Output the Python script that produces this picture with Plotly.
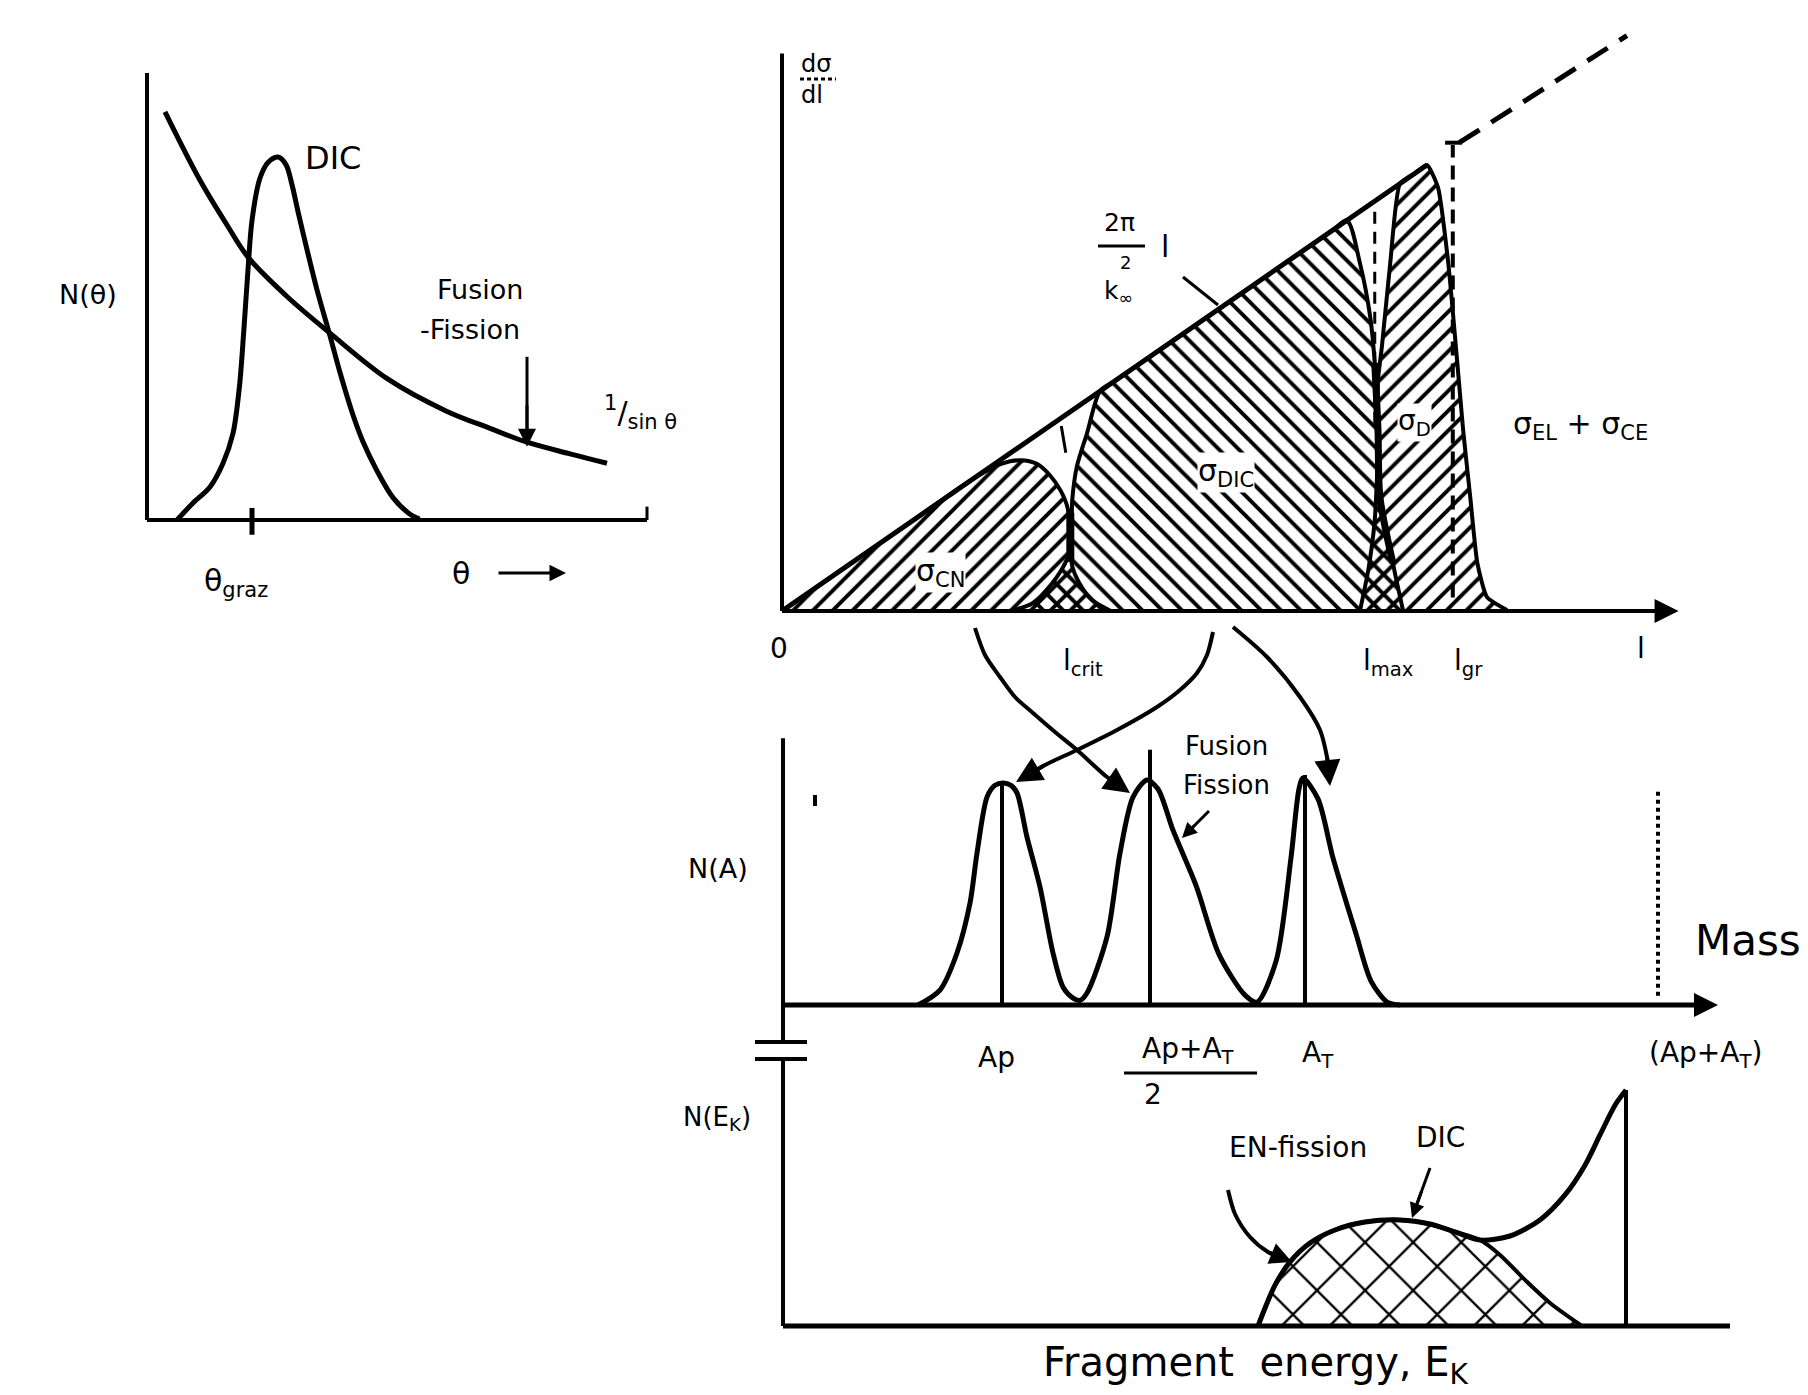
import plotly.graph_objects as go

W, H = 1808, 1395
FONT = "DejaVu Sans"

# ---------------- Panel A : N(theta) ----------------
theta_sin = [0.36, 1.06, 1.6, 2.02, 2.8, 3.66, 4.82, 5.98, 6.86, 7.6, 8.46, 9.2]
n_sin = [9.13, 7.6, 6.6, 5.88, 5.0, 4.18, 3.15, 2.44, 2.05, 1.74, 1.48, 1.27]
theta_dic = [0.6, 0.92, 1.26, 1.52, 1.72, 1.85, 1.94, 2.02, 2.1, 2.26, 2.42, 2.62, 2.78, 2.9,
             3.02, 3.2, 3.4, 3.66, 3.86, 4.12, 4.32, 4.6, 4.92, 5.26, 5.45]
n_dic = [0.0, 0.38, 0.74, 1.27, 1.94, 3.0, 4.3, 5.6, 6.7, 7.65, 8.0, 8.12, 7.95, 7.5,
         6.9, 6.05, 5.15, 4.12, 3.3, 2.35, 1.75, 1.1, 0.5, 0.13, 0.02]
theta_graz = 2.1
theta_max = 10.0
n_max = 10.0
fission_arrow_theta = 7.6
fission_arrow_n = [3.65, 1.76]

# ---------------- Panel B : dsigma/dl ----------------
l_tri = [0.0, 10.0]
s_tri = [0.0, 10.0]
l_tri_ext = [10.5, 13.1]
s_tri_ext = [10.5, 12.9]
l_cn = [0, 1, 2, 3, 3.4, 3.7, 3.95, 4.15, 4.32, 4.43, 4.47, 4.5, 4.6, 4.8, 5.1]
s_cn = [0, 1, 2, 3, 3.3, 3.38, 3.3, 3.05, 2.7, 2.3, 1.5, 1.0, 0.65, 0.25, 0]
l_dic_left = [3.53, 3.89, 4.26, 4.47, 4.5, 4.57, 4.73, 4.93]
s_dic_left = [0, 0.18, 0.76, 1.37, 2.49, 3.23, 3.99, 4.93]
l_dic_top = [5.15, 8.55]          # vertices on the grazing line dσ/dl ∝ l
s_dic_top = [5.15, 8.55]
l_dic_right = [8.76, 8.96, 9.12, 9.19, 9.24, 9.27, 9.47, 9.63]
s_dic_right = [8.76, 7.8, 6.59, 5.56, 4.06, 2.56, 1.08, 0.0]
l_d_left = [8.96, 9.09, 9.19, 9.24, 9.24, 9.3, 9.43, 9.58, 9.82]
s_d_left = [0.0, 0.92, 2.04, 3.6, 5.18, 5.92, 7.8, 9.58, 9.82]
l_d_right = [10.0, 10.17, 10.33, 10.47, 10.56, 10.67, 10.78, 10.93, 11.24]
s_d_right = [10.0, 9.5, 7.8, 5.56, 4.06, 2.56, 1.08, 0.31, 0.02]
l_crit = 4.47
l_max = 9.19
l_gr = 10.4
l_axis_end = 13.9
s_axis_top = 12.5

# ---------------- Panel C : N(A) ----------------
u_mass = [13.5, 15.7, 17.4, 18.7, 19.4, 20.4, 21.2, 22.0, 22.8, 23.4, 24.4, 25.7, 27.0, 28.0, 29.0,
          29.7, 30.4, 32.4, 33.7, 35.0, 36.4, 37.5, 39.0, 41.3, 43.6, 46.2, 47.4,
          49.3, 50.8, 51.6, 52.0, 53.5, 55.0, 57.3, 58.8, 60.4, 61.7]
n_mass = [0, 6.5, 22.6, 44.3, 66, 90.4, 95.5, 96.5, 95.5, 92.2, 73, 51.3, 22.6, 7.8, 3,
          2, 5.2, 29.6, 66, 90.4, 97.8, 93.9, 76, 52, 22, 4.3, 1.3,
          19, 64, 94, 98.7, 89.6, 64, 31, 10.4, 1.3, 0]
mass_lines_u = [21.9, 36.7, 52.2]
mass_lines_n = [95.6, 111.0, 100.0]
mass_total_u = 87.5
mass_total_n = [4, 94]
u_axis_end = 93.5
n_axis_top = 116
n_axis_break = -16.1

# ---------------- Panel D : N(E_K) ----------------
u_ek = [47.5, 49.2, 50.7, 52.7, 55.2, 58.2, 61.7, 64.7, 67.2, 69.7, 72.7, 75.7, 78.2, 80.2,
        81.7, 83.2, 84.3]
n_ek = [0, 17, 26.7, 34.6, 40, 43.3, 44.2, 42.5, 39.2, 35.8, 37.5, 44.2, 54.6, 67,
        79.6, 92, 98.3]
u_dic_hump = [47.5, 49.2, 50.7, 52.7, 55.2, 58.2, 61.7, 64.7, 67.2, 69.7, 71.7, 74.2, 76.7, 79.9]
n_dic_hump = [0, 17, 26.7, 34.6, 40, 43.3, 44.2, 42.5, 39.2, 35.8, 29.6, 19.2, 9.6, 0]
u_elastic = 84.3
ek_axis_end = 94.7
ek_axis_top = 111

# ---------------- connectors (page canvas) ----------------
arrow1_x = [975, 985, 1000, 1015, 1033, 1055, 1077, 1107, 1122]
arrow1_y = [628, 655, 677, 697, 713, 732, 750, 777, 787]
arrow2_x = [1213, 1207, 1197, 1180, 1157, 1117, 1077, 1045, 1030]
arrow2_y = [632, 655, 673, 690, 707, 730, 750, 765, 774]
arrow3_x = [1233, 1267, 1300, 1320, 1327, 1329]
arrow3_y = [627, 657, 697, 730, 757, 772]
enf_x = [1228, 1235, 1250, 1268, 1284]
enf_y = [1190, 1214, 1237, 1252, 1259]

fig = go.Figure()


def line(x, y, ax, width=5, dash=None, shape="spline", color="black", smoothing=0.8):
    fig.add_trace(go.Scatter(x=x, y=y, mode="lines", xaxis="x" + ax, yaxis="y" + ax,
                             line=dict(color=color, width=width, dash=dash, shape=shape,
                                       smoothing=smoothing),
                             hoverinfo="skip", showlegend=False))


def hatch(x, y, ax, shape, size=14, solidity=0.28, smoothing=0.8):
    fig.add_trace(go.Scatter(x=x, y=y, mode="lines", xaxis="x" + ax, yaxis="y" + ax,
                             fill="toself", fillcolor="rgba(0,0,0,0)",
                             fillpattern=dict(shape=shape, size=size, solidity=solidity,
                                              fgcolor="black", bgcolor="rgba(0,0,0,0)",
                                              fillmode="replace"),
                             line=dict(color="black", width=4, shape="spline",
                                       smoothing=smoothing),
                             hoverinfo="skip", showlegend=False))


# Panel A (axes x / y)
A = ""
line([0, 0], [0, n_max], A, 4, shape="linear")
line([0, theta_max], [0, 0], A, 4, shape="linear")
line([theta_max, theta_max], [0, 0.3], A, 3, shape="linear")
line([theta_graz, theta_graz], [-0.33, 0.27], A, 5, shape="linear")
line(theta_sin, n_sin, A, 5, smoothing=1.0)
line(theta_dic, n_dic, A, 5, smoothing=0.9)
line([fission_arrow_theta, fission_arrow_theta], fission_arrow_n, A, 3, shape="linear")

# Panel B
B = "2"
hatch(l_cn, s_cn, B, "/")
hatch(l_dic_left + l_dic_top + l_dic_right, s_dic_left + s_dic_top + s_dic_right, B, "\\")
hatch(l_d_left + l_d_right, s_d_left + s_d_right, B, "/", smoothing=0.5)
line([0, 0], [0, s_axis_top], B, 4, shape="linear")
line([0, l_axis_end - 0.3], [0, 0], B, 4, shape="linear")
line(l_tri, s_tri, B, 5, shape="linear")
line(l_tri_ext, s_tri_ext, B, 5, dash="24px,14px", shape="linear")
line([l_crit, l_crit], [1.1, 2.2], B, 8, shape="linear")
line(l_dic_right[3:7], s_dic_right[3:7], B, 7)
line([l_max, l_max], [4.2, 9.0], B, 3, dash="12px,8px", shape="linear")
line([l_gr, l_gr], [0.3, 10.45], B, 4, dash="14px,8px", shape="linear")
line([l_gr - 0.12, l_gr + 0.14], [10.5, 10.5], B, 4, shape="linear")
line([4.33, 4.4], [4.15, 3.55], B, 3, shape="linear")

# Panel C
C = "3"
line([0, 0], [n_axis_break, n_axis_top], C, 4, shape="linear")
line([0, u_axis_end - 2], [0, 0], C, 5, shape="linear")
line(u_mass, n_mass, C, 5)
for uu, nn in zip(mass_lines_u, mass_lines_n):
    line([uu, uu], [0, nn], C, 4, shape="linear")
line([mass_total_u, mass_total_u], mass_total_n, C, 4, dash="dot", shape="linear")

# Panel D
D = "4"
hatch(u_dic_hump, n_dic_hump, D, "x", size=34, solidity=0.13)
line([0, 0], [0, ek_axis_top], D, 4, shape="linear")
line([0, ek_axis_end], [0, 0], D, 5, shape="linear")
line(u_ek, n_ek, D, 5)
line([u_elastic, u_elastic], [0, n_ek[-1]], D, 4, shape="linear")

# Canvas connectors and decorations
P = "5"
line(arrow1_x, arrow1_y, P, 4)
line(arrow2_x, arrow2_y, P, 4)
line(arrow3_x, arrow3_y, P, 4)
line(enf_x, enf_y, P, 4)
line([1430, 1414], [1168, 1212], P, 3, shape="linear")
line([1209, 1186], [811, 834], P, 3, shape="linear")
line([1183, 1218], [277, 305], P, 3, shape="linear")
line([800, 836], [79, 79], P, 3, dash="4px,3px", shape="linear")
line([1098, 1145], [246, 246], P, 3, shape="linear")
line([1124, 1257], [1073, 1073], P, 3, shape="linear")
line([755, 807], [1042, 1042], P, 4, shape="linear")
line([755, 807], [1059, 1059], P, 4, shape="linear")
line([815, 815], [795, 806], P, 4, shape="linear")

annotations = []


def head(x, y, ax, ay, ref, size=1.3, width=4):
    annotations.append(dict(x=x, y=y, ax=ax, ay=ay, xref="x" + ref, yref="y" + ref,
                            axref="x" + ref, ayref="y" + ref, showarrow=True, arrowhead=2,
                            arrowsize=size, arrowwidth=width, arrowcolor="black", text=""))


head(arrow1_x[-1] + 8, arrow1_y[-1] + 6, arrow1_x[-2], arrow1_y[-2], P)
head(arrow2_x[-1] - 14, arrow2_y[-1] + 8, arrow2_x[-2], arrow2_y[-2], P)
head(arrow3_x[-1] + 1, arrow3_y[-1] + 14, arrow3_x[-2], arrow3_y[-2], P)
head(enf_x[-1] + 8, enf_y[-1] + 3, enf_x[-2], enf_y[-2], P, 1.1)
head(1412, 1218, 1422, 1190, P, 1.0, 3)
head(1182, 838, 1196, 824, P, 1.0, 3)
head(fission_arrow_theta, fission_arrow_n[1] - 0.12, fission_arrow_theta, 2.6, "", 1.2, 3)
head(l_axis_end, 0, l_axis_end - 1, 0, B, 1.2, 4)
head(u_axis_end, 0, u_axis_end - 10, 0, C, 1.2, 4)
head(566, 573, 497, 573, P, 1.1, 3)

labels = [
    ("N(θ)", 88, 294, 27, None), ("DIC", 333, 158, 32, None), ("Fusion", 480, 289, 27, None),
    ("-Fission", 470, 329, 27, None), ("<sup>1</sup>/<sub>sin θ</sub>", 640, 412, 30, None),
    ("θ<sub>graz</sub>", 236, 582, 30, None), ("θ", 461, 573, 30, None),
    ("dσ", 816, 64, 24, None), ("dl", 812, 95, 24, None), ("2π", 1119, 222, 25, None),
    ("2", 1125, 262, 18, None), ("k<sub>∞</sub>", 1118, 292, 25, None), ("l", 1165, 246, 30, None),
    ("σ<sub>CN</sub>", 940, 572, 30, "white"), ("σ<sub>DIC</sub>", 1226, 472, 30, "white"),
    ("σ<sub>D</sub>", 1414, 422, 28, "white"),
    ("σ<sub>EL</sub> + σ<sub>CE</sub>", 1580, 425, 30, None),
    ("0", 779, 648, 28, None), ("l<sub>crit</sub>", 1083, 662, 28, None),
    ("l<sub>max</sub>", 1388, 662, 28, None),
    ("l<sub>gr</sub>", 1468, 662, 28, None), ("l", 1641, 648, 28, None),
    ("N(A)", 718, 868, 27, None), ("Fusion", 1226, 746, 26, None), ("Fission", 1226, 785, 26, None),
    ("Mass", 1748, 940, 42, None), ("Ap", 996, 1057, 28, None),
    ("Ap+A<sub>T</sub>", 1188, 1050, 28, None),
    ("2", 1153, 1094, 28, None), ("A<sub>T</sub>", 1318, 1054, 28, None),
    ("(Ap+A<sub>T</sub>)", 1705, 1054, 28, None), ("N(E<sub>K</sub>)", 717, 1118, 26, None),
    ("EN-fission", 1298, 1147, 28, None), ("DIC", 1440, 1137, 28, None),
    ("Fragment  energy, E<sub>K</sub>", 1256, 1365, 40, None),
]
for t, x, y, s, bg in labels:
    annotations.append(dict(text=t, x=x, y=y, xref="x5", yref="y5", showarrow=False,
                            xanchor="center", yanchor="middle", bgcolor=bg, borderpad=0,
                            font=dict(family=FONT, size=s, color="black")))


def axes(px0, px1, ptop, pbot, ox, oy, kx, ky):
    xa = dict(domain=[px0 / W, px1 / W], range=[(px0 - ox) / kx, (px1 - ox) / kx],
              visible=False, fixedrange=True)
    ya = dict(domain=[1 - pbot / H, 1 - ptop / H], range=[(oy - pbot) / ky, (oy - ptop) / ky],
              visible=False, fixedrange=True)
    return xa, ya


xa1, ya1 = axes(110, 700, 50, 560, 147, 520, 50, 44.7)
xa2, ya2 = axes(750, 1710, 20, 640, 782, 611, 64.5, 44.6)
xa3, ya3 = axes(740, 1740, 720, 1060, 783, 1005, 10, 2.3)
xa4, ya4 = axes(740, 1740, 1050, 1340, 783, 1326, 10, 2.4)
xa2["anchor"], ya2["anchor"] = "y2", "x2"
xa3["anchor"], ya3["anchor"] = "y3", "x3"
xa4["anchor"], ya4["anchor"] = "y4", "x4"
xa5 = dict(domain=[0, 1], range=[0, W], visible=False, fixedrange=True, anchor="y5")
ya5 = dict(domain=[0, 1], range=[H, 0], visible=False, fixedrange=True, anchor="x5")

fig.update_layout(
    width=W, height=H, margin=dict(l=0, r=0, t=0, b=0),
    paper_bgcolor="white", plot_bgcolor="rgba(0,0,0,0)", showlegend=False,
    xaxis=xa1, yaxis=ya1, xaxis2=xa2, yaxis2=ya2, xaxis3=xa3, yaxis3=ya3,
    xaxis4=xa4, yaxis4=ya4, xaxis5=xa5, yaxis5=ya5,
    annotations=annotations, font=dict(family=FONT, color="black"),
)

fig.write_html("out.html", config={"displayModeBar": False, "staticPlot": True},
               post_script="document.body.style.margin='0';document.body.style.overflow='hidden';")
